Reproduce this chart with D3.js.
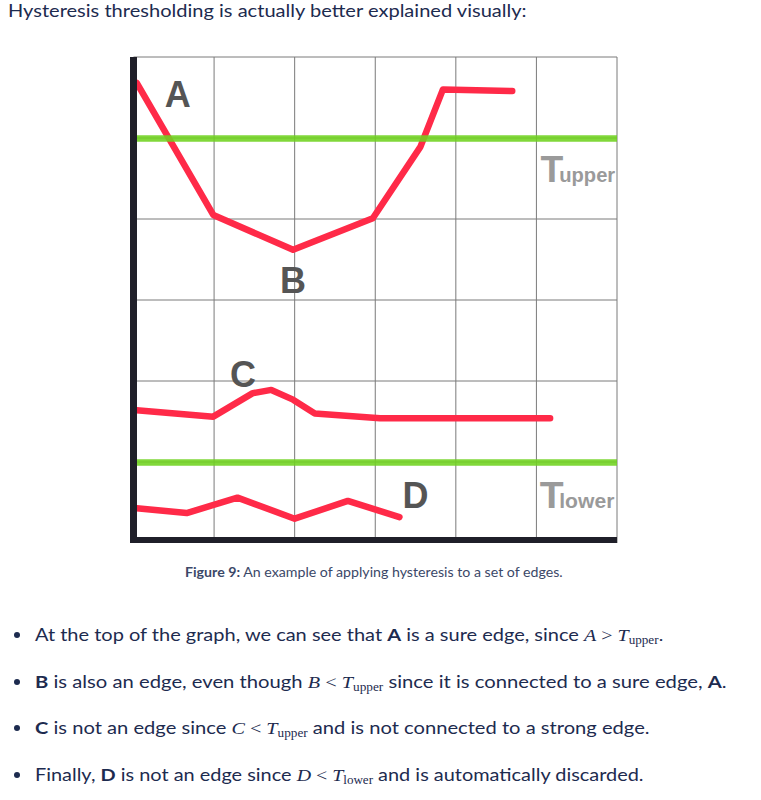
<!DOCTYPE html>
<html>
<head>
<meta charset="utf-8">
<script src="https://cdn.jsdelivr.net/npm/d3@7"></script>
<style>
  html, body { margin: 0; padding: 0; background: #fff; }
  svg { display: block; }
</style>
</head>
<body>
<svg id="chart" width="761" height="800"></svg>
<script>
// ---------------- data ----------------
const gridCols = [0, 1, 2, 3, 4, 5, 6];
const gridRows = [0, 1, 2, 3, 4, 5, 6];
const thresholdUpper = 5.0;
const thresholdLower = 1.0;

// edge A-B (sure edge that dips below T_upper)
const edgeABx = [0.04, 0.99, 1.98, 2.97, 3.56, 3.84, 4.70];
const edgeABy = [5.68, 4.05, 3.62, 4.01, 4.89, 5.60, 5.58];
// edge C (between thresholds, not connected)
const edgeCx = [0.04, 0.99, 1.48, 1.71, 1.98, 2.25, 3.06, 5.17];
const edgeCy = [1.64, 1.56, 1.85, 1.89, 1.77, 1.60, 1.54, 1.54];
// edge D (below T_lower)
const edgeDx = [0.04, 0.66, 1.29, 2.00, 2.66, 3.30];
const edgeDy = [0.43, 0.37, 0.56, 0.30, 0.52, 0.32];

const labelNames = ["A", "B", "C", "D"];
const titleText = "Hysteresis thresholding is actually better explained visually:";
const captionBold = "Figure 9:";
const captionText = " An example of applying hysteresis to a set of edges.";

// ---------------- drawing ----------------
const svg = d3.select("#chart");
const x = d3.scaleLinear().domain([0, 6]).range([133.5, 617]);
const y = d3.scaleLinear().domain([0, 6]).range([543, 57]);

const navy = "#1d2b4f";
const red = "#ff2a48";
const green = "#6fd31f";

// helper: stretch a text node to a target width
function fitWidth(sel, x0, target) {
  const w = sel.node().getBBox().width;
  const k = target / w;
  sel.attr("transform", `translate(${x0},0) scale(${k},1) translate(${-x0},0)`);
}

// title
const title = svg.append("text")
  .attr("x", 8).attr("y", 17)
  .attr("font-family", "Lato, 'Open Sans', sans-serif")
  .attr("font-size", 18)
  .attr("fill", navy)
  .text(titleText);
fitWidth(title, 8, 519);

// grid
const g = svg.append("g");
g.selectAll("line.v").data(gridCols.slice(1)).join("line")
  .attr("x1", d => x(d)).attr("x2", d => x(d))
  .attr("y1", y(6)).attr("y2", y(0))
  .attr("stroke", "#7a7a7a").attr("stroke-width", 1);
g.selectAll("line.h").data(gridRows.slice(1)).join("line")
  .attr("x1", x(0)).attr("x2", x(6))
  .attr("y1", d => y(d)).attr("y2", d => y(d))
  .attr("stroke", "#7a7a7a").attr("stroke-width", 1);

// red edges
const lineGen = d3.line().x(d => x(d[0])).y(d => y(d[1]));
const edges = [
  d3.zip(edgeABx, edgeABy),
  d3.zip(edgeCx, edgeCy),
  d3.zip(edgeDx, edgeDy)
];
g.selectAll("path.edge").data(edges).join("path")
  .attr("d", lineGen)
  .attr("fill", "none")
  .attr("stroke", red)
  .attr("stroke-width", 6.5)
  .attr("stroke-linejoin", "round")
  .attr("stroke-linecap", "round");

// thresholds
g.selectAll("line.th").data([thresholdUpper, thresholdLower]).join("line")
  .attr("x1", x(0)).attr("x2", x(6))
  .attr("y1", d => y(d) + 0.5).attr("y2", d => y(d) + 0.5)
  .attr("stroke", green).attr("stroke-width", 6.5)
  .attr("stroke-opacity", 0.88);

// axes (thick black)
g.append("line")
  .attr("x1", x(0)).attr("x2", x(0))
  .attr("y1", y(6)).attr("y2", y(0))
  .attr("stroke", "#1f1f29").attr("stroke-width", 7);
g.append("line")
  .attr("x1", x(0) - 3.5).attr("x2", x(6))
  .attr("y1", y(0) - 3).attr("y2", y(0) - 3)
  .attr("stroke", "#1f1f29").attr("stroke-width", 6);

// edge labels
const labelPos = [[0.55, 5.38], [1.98, 3.09], [1.36, 1.93], [3.50, 0.43]];
g.selectAll("text.lbl").data(labelNames).join("text")
  .attr("x", (d, i) => x(labelPos[i][0]))
  .attr("y", (d, i) => y(labelPos[i][1]))
  .attr("text-anchor", "middle")
  .attr("font-family", "'Liberation Sans', Arial, sans-serif")
  .attr("font-weight", "bold")
  .attr("font-size", 36)
  .attr("fill", "#555555")
  .text(d => d);

// threshold labels
const thLabels = [["upper", 5.05, 4.46], ["lower", 5.04, 0.43]];
thLabels.forEach(([sub, lx, ly]) => {
  const t = g.append("text")
    .attr("x", x(lx)).attr("y", y(ly))
    .attr("font-family", "'Liberation Sans', Arial, sans-serif")
    .attr("font-weight", "bold")
    .attr("fill", "#9a9a9a");
  t.append("tspan").attr("font-size", 37).text("T");
  t.append("tspan").attr("font-size", 20).attr("dx", -4).text(sub);
  fitWidth(t, x(lx), 75);
});

// caption
const cap = svg.append("text")
  .attr("x", 185).attr("y", 577)
  .attr("font-family", "Lato, 'Open Sans', sans-serif")
  .attr("font-size", 13)
  .attr("fill", "#3b4868");
cap.append("tspan").attr("font-weight", "bold").text(captionBold);
cap.append("tspan").text(captionText);
fitWidth(cap, 185, 378);

// bullets
const bullets = [
  { y: 641, w: 629, parts: [
    ["t", "At the top of the graph, we can see that "], ["b", "A"], ["t", " is a sure edge, since "],
    ["mi", "A"], ["mo", " > "], ["mi", "T"], ["sub", "upper"], ["mo", "."]
  ]},
  { y: 688, w: 692, parts: [
    ["b", "B"], ["t", " is also an edge, even though "], ["mi", "B"], ["mo", " < "], ["mi", "T"], ["sub", "upper"],
    ["t", " since it is connected to a sure edge, "], ["b", "A"], ["t", "."]
  ]},
  { y: 734, w: 615, parts: [
    ["b", "C"], ["t", " is not an edge since "], ["mi", "C"], ["mo", " < "], ["mi", "T"], ["sub", "upper"],
    ["t", " and is not connected to a strong edge."]
  ]},
  { y: 781, w: 609, parts: [
    ["t", "Finally, "], ["b", "D"], ["t", " is not an edge since "], ["mi", "D"], ["mo", " < "], ["mi", "T"], ["sub", "lower"],
    ["t", " and is automatically discarded."]
  ]}
];
bullets.forEach(bl => {
  svg.append("circle").attr("cx", 17).attr("cy", bl.y - 6).attr("r", 3).attr("fill", navy);
  const t = svg.append("text")
    .attr("x", 35).attr("y", bl.y)
    .attr("font-family", "Lato, 'Open Sans', sans-serif")
    .attr("font-size", 17.5)
    .attr("fill", navy);
  let prevSub = false;
  bl.parts.forEach(([kind, str]) => {
    const ts = t.append("tspan").text(str);
    let dy = 0;
    if (prevSub && kind !== "sub") dy = -3;
    if (kind === "b") ts.attr("font-weight", "bold");
    if (kind === "mi") ts.attr("font-family", "'Liberation Serif', serif").attr("font-style", "italic");
    if (kind === "mo") ts.attr("font-family", "'Liberation Serif', serif");
    if (kind === "sub") { ts.attr("font-family", "'Liberation Serif', serif").attr("font-size", 11.5); dy = 3; }
    if (dy) ts.attr("dy", dy);
    ts.attr("xml:space", "preserve").style("white-space", "pre");
    prevSub = kind === "sub";
  });
  fitWidth(t, 35, bl.w);
});
</script>
</body>
</html>
